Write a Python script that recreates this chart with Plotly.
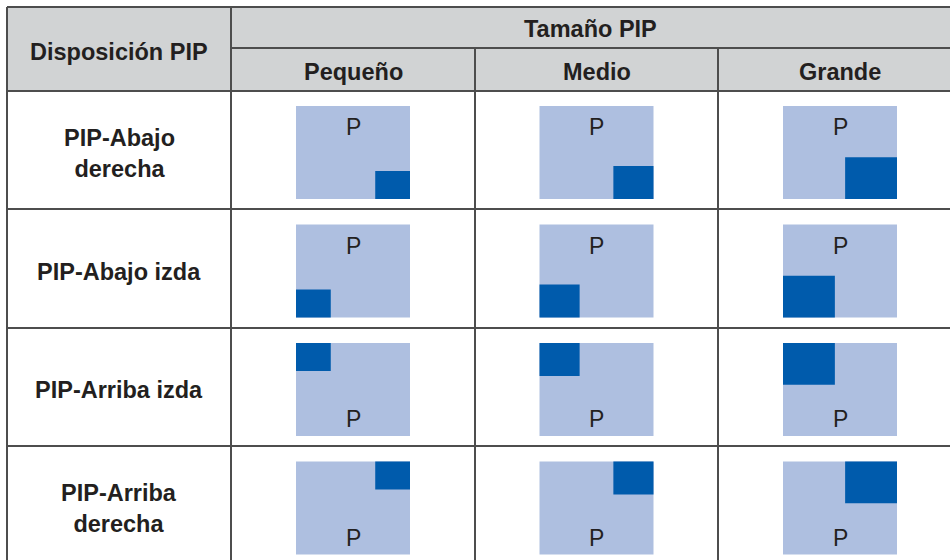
import plotly.graph_objects as go

# ---- data ----
header_title = "Tamaño PIP"
row_header = "Disposición PIP"
sizes = ["Pequeño", "Medio", "Grande"]
size_scale_w = [0.305, 0.352, 0.455]   # PIP width as fraction of main screen
size_scale_h = [0.30, 0.355, 0.45]     # PIP height as fraction of main screen
layouts = ["PIP-Abajo<br>derecha", "PIP-Abajo izda", "PIP-Arriba izda", "PIP-Arriba<br>derecha"]
corners = ["br", "bl", "tl", "tr"]
main_label = "P"

# ---- layout geometry (pixels) ----
W, H = 950, 560
left, top = 7, 7
col_edges = [231, 475, 718, 962]
hdr_mid, hdr_bot = 48, 91
row_edges = [91, 209, 328, 446, 565]
scr_w, scr_h = 114, 93

LINE = "#4d4d4d"
HDR = "#d1d3d4"
LIGHT = "#aebfe0"
DARK = "#005bac"
TXT = "#231f20"
FONT = "Liberation Sans, Arial, sans-serif"
BSIZE = 23.5

shapes = []
annotations = []

# header background
shapes.append(dict(type="rect", x0=left, x1=W + 5, y0=top, y1=hdr_bot,
                   fillcolor=HDR, line_width=0, layer="below"))

# pictures
for r, (lay, corner) in enumerate(zip(layouts, corners)):
    ry0, ry1 = row_edges[r], row_edges[r + 1]
    cy = (ry0 + ry1) / 2 + 2.5
    for c, sz in enumerate(sizes):
        cx = (col_edges[c] + col_edges[c + 1]) / 2
        x0, x1 = cx - scr_w / 2, cx + scr_w / 2
        y0, y1 = cy - scr_h / 2, cy + scr_h / 2
        shapes.append(dict(type="rect", x0=x0, x1=x1, y0=y0, y1=y1,
                           fillcolor=LIGHT, line_width=0))
        pw, ph = scr_w * size_scale_w[c], scr_h * size_scale_h[c]
        px0 = x1 - pw if corner[1] == "r" else x0
        py0 = y1 - ph if corner[0] == "b" else y0
        shapes.append(dict(type="rect", x0=px0, x1=px0 + pw, y0=py0, y1=py0 + ph,
                           fillcolor=DARK, line_width=0))
        ty = y0 + 21 if corner[0] == "b" else y1 - 17
        annotations.append(dict(x=cx, y=ty, text=main_label, showarrow=False,
                                xanchor="center", yanchor="middle",
                                font=dict(family=FONT, size=23, color=TXT)))
    annotations.append(dict(x=(left + col_edges[0]) / 2, y=(ry0 + ry1) / 2 + 3,
                            text="<b>%s</b>" % lay, showarrow=False,
                            xanchor="center", yanchor="middle",
                            font=dict(family=FONT, size=BSIZE, color=TXT)))

# header texts
annotations.append(dict(x=(left + col_edges[0]) / 2, y=(top + hdr_bot) / 2 + 3,
                        text="<b>%s</b>" % row_header, showarrow=False,
                        xanchor="center", yanchor="middle",
                        font=dict(family=FONT, size=BSIZE, color=TXT)))
annotations.append(dict(x=(col_edges[0] + W) / 2, y=(top + hdr_mid) / 2 + 1,
                        text="<b>%s</b>" % header_title, showarrow=False,
                        xanchor="center", yanchor="middle",
                        font=dict(family=FONT, size=BSIZE, color=TXT)))
for c, sz in enumerate(sizes):
    annotations.append(dict(x=(col_edges[c] + col_edges[c + 1]) / 2,
                            y=(hdr_mid + hdr_bot) / 2 + 2,
                            text="<b>%s</b>" % sz, showarrow=False,
                            xanchor="center", yanchor="middle",
                            font=dict(family=FONT, size=BSIZE, color=TXT)))

# grid lines
def hline(y, x0, x1):
    shapes.append(dict(type="line", x0=x0, x1=x1, y0=y, y1=y,
                       line=dict(color=LINE, width=2)))

def vline(x, y0, y1):
    shapes.append(dict(type="line", x0=x, x1=x, y0=y0, y1=y1,
                       line=dict(color=LINE, width=2)))

hline(top, left, W + 5)
hline(hdr_mid, col_edges[0], W + 5)
for y in row_edges[:-1]:
    hline(y, left, W + 5)
vline(left, top, H + 5)
vline(col_edges[0], top, H + 5)
for x in col_edges[1:3]:
    vline(x, hdr_mid, H + 5)

fig = go.Figure()
fig.add_trace(go.Scatter(x=[0, W], y=[0, H], mode="markers",
                         marker=dict(opacity=0), hoverinfo="skip", showlegend=False))
fig.update_layout(
    width=W, height=H,
    margin=dict(l=0, r=0, t=0, b=0),
    paper_bgcolor="white", plot_bgcolor="white",
    xaxis=dict(range=[0, W], visible=False, fixedrange=True),
    yaxis=dict(range=[H, 0], visible=False, fixedrange=True),
    shapes=shapes, annotations=annotations, showlegend=False,
)
fig.write_html("out.html", config={"displayModeBar": False},
               post_script="document.body.style.margin='0';document.body.style.overflow='hidden';")
